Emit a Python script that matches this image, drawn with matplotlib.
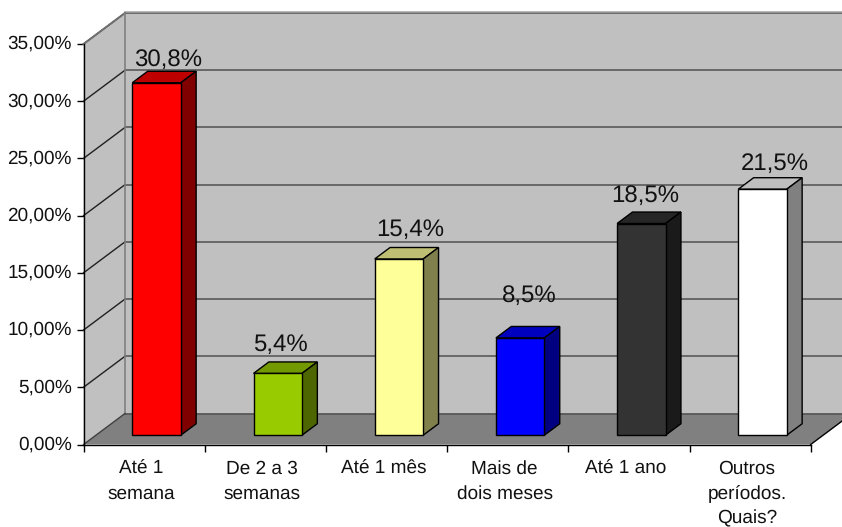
import matplotlib
matplotlib.use("Agg")
import matplotlib.pyplot as plt
from matplotlib.transforms import Affine2D

categories = ["Até 1\nsemana", "De 2 a 3\nsemanas", "Até 1 mês", "Mais de\ndois meses",
              "Até 1 ano", "Outros\nperíodos.\nQuais?"]
values = [30.8, 5.4, 15.4, 8.5, 18.5, 21.5]
value_labels = ["30,8%", "5,4%", "15,4%", "8,5%", "18,5%", "21,5%"]
y_ticks = [0, 5, 10, 15, 20, 25, 30, 35]
y_tick_labels = ["0,00%", "5,00%", "10,00%", "15,00%", "20,00%", "25,00%", "30,00%", "35,00%"]

front_colors = ["#FF0000", "#99CC00", "#FFFF99", "#0000FF", "#333333", "#FFFFFF"]
top_colors = ["#BF0000", "#739900", "#BFBF73", "#0000BF", "#262626", "#BFBFBF"]
side_colors = ["#800000", "#4D6600", "#80804D", "#000080", "#1A1A1A", "#808080"]

# hand placed offsets of the value labels from the bar, in pixels
label_dx = [12, 2.5, 11.5, 9, 4, 12.5]
label_dy = [23, 29, 29, 42, 28, 25.5]

plt.rcParams["font.family"] = ["Liberation Sans", "DejaVu Sans"]
plt.rcParams["text.hinting"] = "none"
plt.rcParams["text.hinting_factor"] = 1

W, H = 842, 527
DEPTH_X, DEPTH_Y = 41.5, 31
fig = plt.figure(figsize=(W / 100, H / 100), dpi=100)
ax = fig.add_axes([83.5 / W, 1 - 444.5 / H, (810.7 - 83.5) / W, 400.5 / H])
ax.set_xlim(0, 6)
ax.set_ylim(0, 35)
ax.patch.set_visible(False)


def at_depth(d):
    # data coordinates pushed back into the fake 3D box
    return ax.transData + Affine2D().translate(DEPTH_X * d, DEPTH_Y * d)


def box_x(d):
    return DEPTH_X * d / (ax.transData.transform((1, 0))[0] - ax.transData.transform((0, 0))[0])


def box_y(d):
    return DEPTH_Y * d / (ax.transData.transform((0, 1))[1] - ax.transData.transform((0, 0))[1])


# walls and floor
ax.fill([0, 6, 6, 0], [0, 0, 35, 35], color="#C0C0C0", lw=0, transform=at_depth(1), clip_on=False, zorder=1)
ax.fill([0, box_x(1), box_x(1), 0], [0, box_y(1), 35 + box_y(1), 35], color="#C0C0C0", lw=0,
        clip_on=False, zorder=1)
ax.fill([0, 6, 6 + box_x(1), box_x(1)], [0, 0, box_y(1), box_y(1)], color="#808080", lw=0,
        clip_on=False, zorder=2)

# gridlines on both walls
for t in y_ticks[1:]:
    ax.plot([0, 6], [t, t], color="#505050", lw=1.1, transform=at_depth(1), clip_on=False, zorder=3)
    ax.plot([0, box_x(1)], [t, t + box_y(1)], color="#202020", lw=1, clip_on=False, zorder=3)
ax.plot([0, 6], [35, 35], color="#A0A0A0", lw=1.1,
        transform=at_depth(1) + Affine2D().translate(0, 1.5), clip_on=False, zorder=3)
ax.plot([0, box_x(1)], [35, 35 + box_y(1)], color="#707070", lw=1.4, clip_on=False, zorder=3)
ax.plot([0, 0], [0, 35], color="#808080", lw=1.2, transform=at_depth(1), clip_on=False, zorder=3)
ax.plot([0, 6], [0, 0], color="#505050", lw=1.1, transform=at_depth(1), clip_on=False, zorder=3)
ax.plot([0, box_x(1)], [0, box_y(1)], color="#404040", lw=1, clip_on=False, zorder=3)
ax.plot([6, 6 + box_x(1)], [0, box_y(1)], color="#000000", lw=1, clip_on=False, zorder=3)

# bars
bar_w = 0.4
front, back = 0.3, 0.67
dx = box_x(back - front)
dy = box_y(back - front)
for i, v in enumerate(values):
    x0 = i + 0.5 - bar_w / 2
    x1 = x0 + bar_w
    t = at_depth(front)
    ax.bar(i + 0.5, v, bar_w, color=front_colors[i], edgecolor="black", lw=1, transform=t,
           clip_on=False, zorder=6)
    ax.fill([x0, x1, x1 + dx, x0 + dx], [v, v, v + dy, v + dy], facecolor=top_colors[i],
            edgecolor="black", lw=1, transform=t, clip_on=False, zorder=5)
    ax.fill([x1, x1 + dx, x1 + dx, x1], [0, dy, v + dy, v], facecolor=side_colors[i],
            edgecolor="black", lw=1, transform=t, clip_on=False, zorder=5)
    label_t = t + Affine2D().translate(label_dx[i], label_dy[i])
    ax.text(i + 0.5, v, value_labels[i], ha="center", va="center", fontsize=17.3, color="#111111",
            transform=label_t, clip_on=False, zorder=7)

# axes
for s in ["top", "right"]:
    ax.spines[s].set_visible(False)
for s in ["left", "bottom"]:
    ax.spines[s].set_color("black")
    ax.spines[s].set_linewidth(1)
    ax.spines[s].set_zorder(8)
ax.set_yticks(y_ticks)
ax.set_yticklabels(y_tick_labels, fontsize=13.7, color="#111111")
ax.tick_params(axis="y", length=5, width=1, pad=3.5)
for lab in ax.get_yticklabels():
    lab.set_transform(lab.get_transform() + Affine2D().translate(0, 2))
ax.set_xticks(range(7))
ax.set_xticklabels([])
ax.tick_params(axis="x", which="major", length=6.5 * 0.72, width=1)
ax.set_xticks([i + 0.5 for i in range(6)], minor=True)
ax.set_xticklabels(categories, minor=True, fontsize=13.7, color="#111111", linespacing=1.53)
ax.tick_params(axis="x", which="minor", length=0, pad=11)
for lab in ax.get_xticklabels(minor=True):
    lab.set_transform(lab.get_transform() + Affine2D().translate(-3, 0))

fig.savefig("out.png", dpi=100, facecolor="white")
